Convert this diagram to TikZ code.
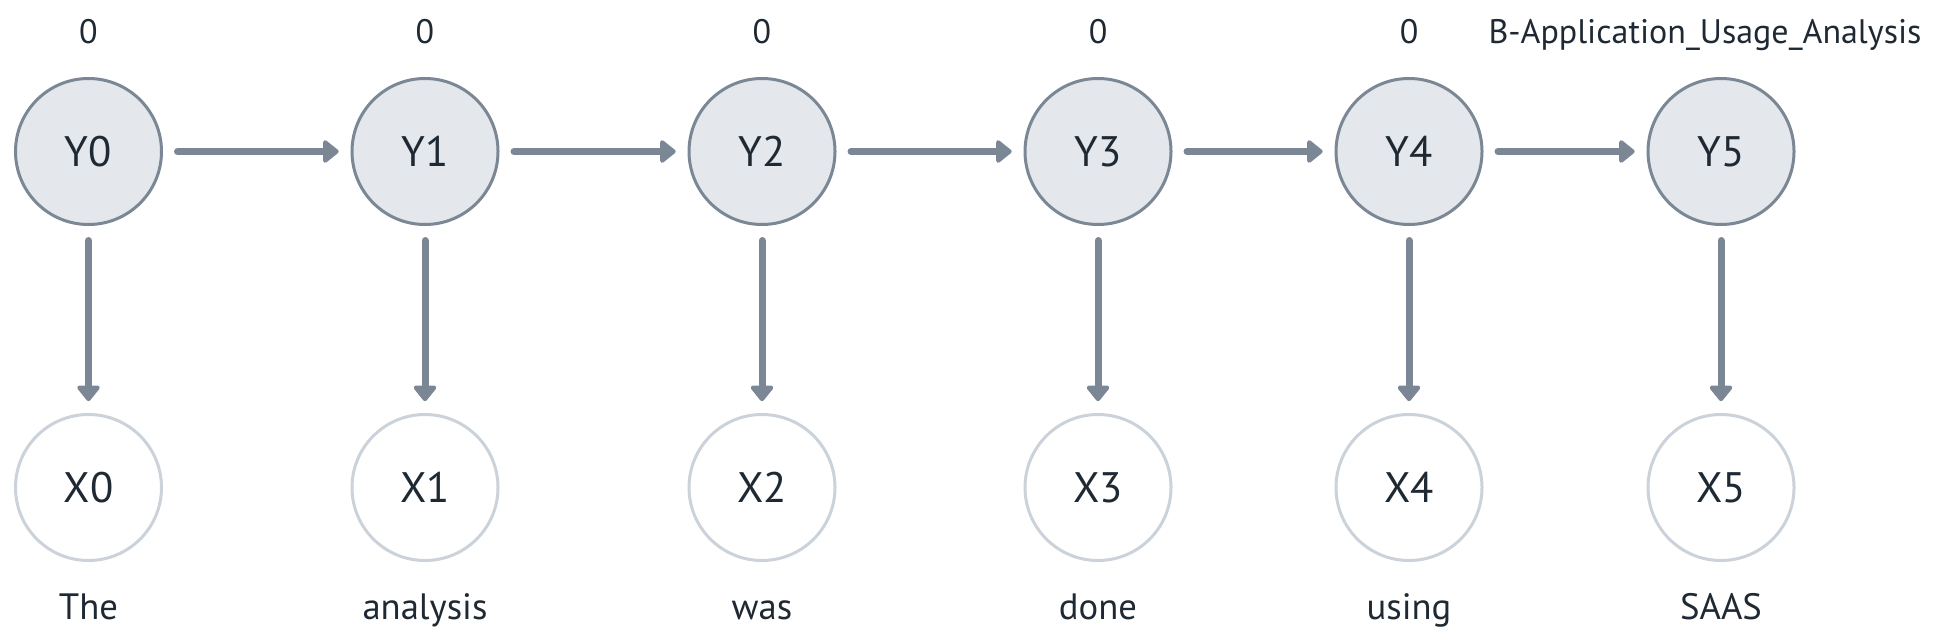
\documentclass[tikz,border=0pt]{standalone}
\usepackage{fontspec}
\setmainfont{PT Sans}
\usetikzlibrary{arrows.meta}
\definecolor{edgegray}{HTML}{7B8794}
\definecolor{fillgray}{HTML}{E4E7EB}
\definecolor{lightring}{HTML}{CBD2D9}
\definecolor{inkdark}{HTML}{1F2933}
\tikzset{
  hidden/.style={circle, minimum size=109.5pt, inner sep=0pt, outer sep=0pt, line width=2.25pt, draw=edgegray, fill=fillgray, text=inkdark, font=\fontsize{32}{32}\selectfont, text height=22.5pt, text depth=0pt},
  observed/.style={circle, minimum size=109.5pt, inner sep=0pt, outer sep=0pt, line width=2.25pt, draw=lightring, fill=white, text=inkdark, font=\fontsize{32}{32}\selectfont, text height=22.5pt, text depth=0pt},
  toplabel/.style={anchor=base, inner sep=0pt, text=inkdark, font=\fontsize{25.5}{25.5}\selectfont},
  wordlabel/.style={anchor=base, inner sep=0pt, text=inkdark, font=\fontsize{27.5}{27.5}\selectfont},
  conn/.style={draw=edgegray, line width=5.25pt, line cap=round, -{Triangle[length=12.75pt, width=19.5pt, round]}, shorten <=12pt, shorten >=10pt}
}
\begin{document}
\begin{tikzpicture}[x=0.75pt, y=-0.75pt]
\useasboundingbox (0,0) rectangle (1958,642);
\foreach \i/\xx/\tx/\tag/\word in {0/88.5/88.5/0/The, 1/425/425/0/analysis, 2/762/762/0/was, 3/1098/1098/0/done, 4/1409/1409/0/using, 5/1721/1705/B-Application\_Usage\_Analysis/SAAS} {
  \node[hidden] (Y\i) at (\xx,151.5) {Y\i};
  \node[observed] (X\i) at (\xx,487.5) {X\i};
  \node[toplabel] (T\i) at (\tx,43.3) {\tag};
  \node[wordlabel] (W\i) at (\xx,619) {\word};
  \draw[conn] (Y\i) -- (X\i);
}
\foreach \a/\b in {0/1,1/2,2/3,3/4,4/5} {
  \draw[conn] (Y\a) -- (Y\b);
}
\end{tikzpicture}
\end{document}
